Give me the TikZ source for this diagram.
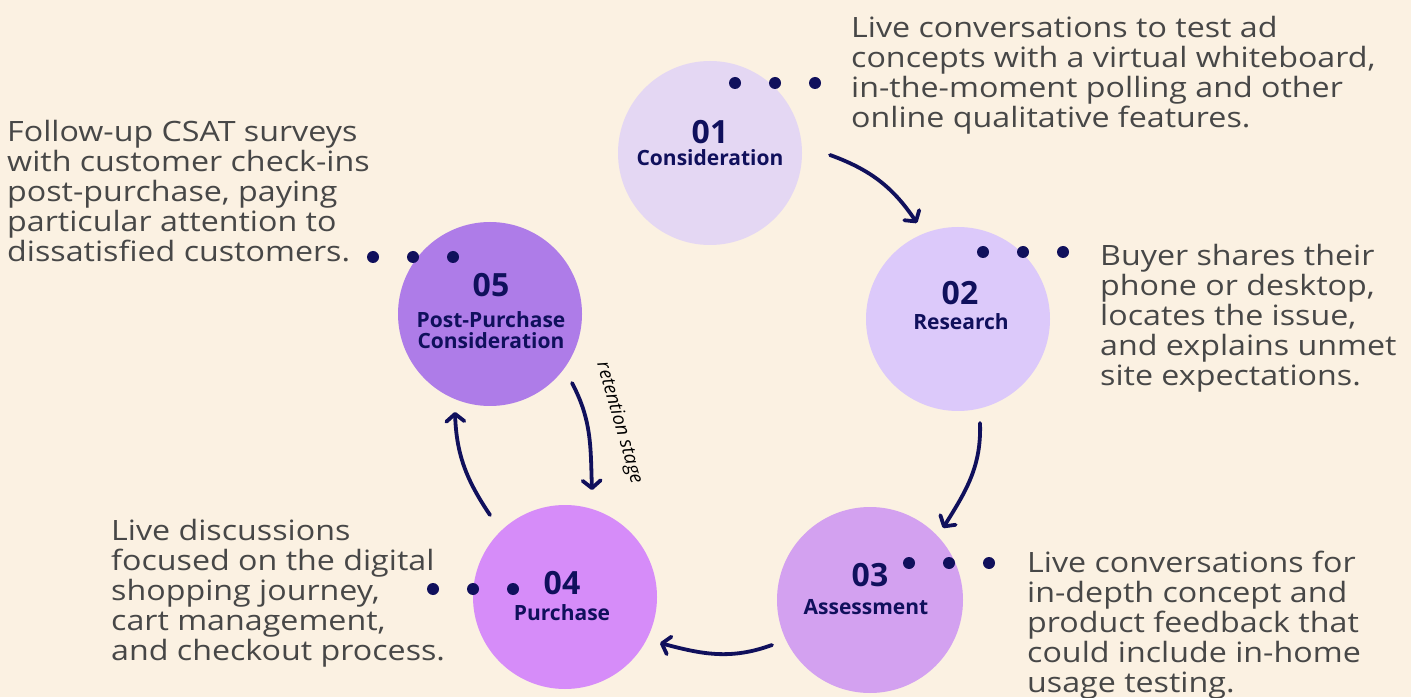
\documentclass[tikz,border=0pt]{standalone}
\usepackage{fontspec}
\setmainfont{Open Sans}
\newfontfamily\notefont[FakeStretch=1.15]{Open Sans}
\usetikzlibrary{arrows.meta,calc}
\definecolor{cream}{HTML}{FBF1E2}
\definecolor{navy}{HTML}{10105C}
\definecolor{bodygray}{HTML}{474747}
\definecolor{stageA}{HTML}{E4D7F3}
\definecolor{stageB}{HTML}{DCC9FA}
\definecolor{stageC}{HTML}{D3A1F0}
\definecolor{stageD}{HTML}{D68CF9}
\definecolor{stageE}{HTML}{AE7CE8}
\begin{document}
\begin{tikzpicture}[x=1pt,y=1pt,
  stage/.style={circle, inner sep=0pt, minimum size=184pt, fill=#1},
  stagenum/.style={inner sep=0pt, text=navy, font=\fontsize{32}{32}\selectfont\bfseries},
  stagelbl/.style={inner sep=0pt, text=navy, align=center, font=\fontsize{21}{21}\selectfont\bfseries},
  note/.style={inner sep=0pt, anchor=base west, align=left, text=bodygray, font=\notefont\fontsize{28}{30}\selectfont},
  flow/.style={draw=navy, line width=3.8pt, line cap=round,
    -{Straight Barb[length=7.5pt,width=18pt,line cap=round,line join=round]}},
  dotmark/.style={fill=navy}
]
\useasboundingbox (0,0) rectangle (1411,697);
\fill[cream] (0,0) rectangle (1411,697);

% the five stage discs
\node[stage=stageA] (c1) at (710,544) {};
\node[stage=stageB] (c2) at (958,378) {};
\node[stage=stageC, minimum size=186pt] (c3) at (870,97) {};
\node[stage=stageD] (c4) at (565,100) {};
\node[stage=stageE] (c5) at (490,383) {};

% numbers and names inside the discs
\node[stagenum] (n1) at ($(c1)+(0,21)$) {01};
\node[stagelbl] (l1) at ($(c1)+(0,-5)$) {Consideration};
\node[stagenum] (n2) at ($(c2)+(2,26)$) {02};
\node[stagelbl] (l2) at ($(c2)+(3,-3)$) {Research};
\node[stagenum] (n3) at ($(c3)+(0,25)$) {03};
\node[stagelbl] (l3) at ($(c3)+(-4,-7)$) {Assessment};
\node[stagenum] (n4) at ($(c4)+(-3,14)$) {04};
\node[stagelbl] (l4) at ($(c4)+(-3,-16)$) {Purchase};
\node[stagenum] (n5) at ($(c5)+(1,29)$) {05};
\node[stagelbl] (l5) at ($(c5)+(1,-16)$) {Post-Purchase\\Consideration};

% three-dot leaders
\foreach \x in {735,775,815} \fill[dotmark] (\x,614) circle (6);
\foreach \x in {983,1023,1063} \fill[dotmark] (\x,445) circle (6);
\foreach \x in {909,949,989} \fill[dotmark] (\x,134) circle (6);
\foreach \x in {433,473,513} \fill[dotmark] (\x,108) circle (6);
\foreach \x in {373,413,453} \fill[dotmark] (\x,440) circle (6);

% descriptions (anchored at the baseline of their last line)
\node[note] (t1) at (851,569) {Live conversations to test ad\\concepts with a virtual whiteboard,\\in-the-moment polling and other\\online qualitative features.};
\node[note] (t2) at (1100,311) {Buyer shares their\\phone or desktop,\\locates the issue,\\and explains unmet\\site expectations.};
\node[note] (t3) at (1027,5) {Live conversations for\\in-depth concept and\\product feedback that\\could include in-home\\usage testing.};
\node[note] (t4) at (111,37) {Live discussions\\focused on the digital\\shopping journey,\\cart management,\\and checkout process.};
\node[note] (t5) at (7,435) {Follow-up CSAT surveys\\with customer check-ins\\post-purchase, paying\\particular attention to\\dissatisfied customers.};

% arrow ends, set off from the discs
\coordinate (a1s) at ($(c1)+(120,-2)$);
\coordinate (a1e) at ($(c2)+(-41,96)$);
\coordinate (a2s) at ($(c2)+(22,-104)$);
\coordinate (a2e) at ($(c3)+(73,72)$);
\coordinate (a3s) at ($(c3)+(-98,-45)$);
\coordinate (a3e) at ($(c4)+(95,-46)$);
\coordinate (a4s) at ($(c4)+(-75,82)$);
\coordinate (a4e) at ($(c5)+(-35,-98)$);
\coordinate (a5s) at ($(c5)+(82,-69)$);
\coordinate (a5e) at ($(c4)+(27,107)$);

\draw[flow] (a1s) to[out=-20,in=124] (a1e);
\draw[flow] (a2s) to[out=-88,in=58] (a2e);
\draw[flow] (a3s) to[out=200,in=-15] (a3e);
\draw[flow] (a4s) to[out=124,in=-88] (a4e);
\draw[flow] (a5s) to[out=-62,in=92] (a5e);

\node[rotate=-74, inner sep=0pt, font=\itshape\fontsize{19}{19}\selectfont] (ret) at (619,274) {retention stage};
\end{tikzpicture}
\end{document}
